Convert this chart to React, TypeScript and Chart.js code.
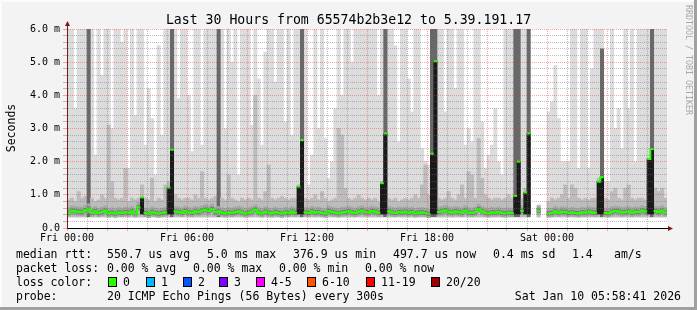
import { useEffect, useRef } from 'react';
import { Chart, registerables } from 'chart.js';

Chart.register(...registerables);

const FONT = "'DejaVu Sans Mono', monospace";

const chartTitle = 'Last 30 Hours from 65574b2b3e12 to 5.39.191.17';
const yAxisTitle = 'Seconds';
const watermark = 'RRDTOOL / TOBI OETIKER';

const xTickHours = [0, 6, 12, 18, 24];
const xTickLabels = ['Fri 00:00', 'Fri 06:00', 'Fri 12:00', 'Fri 18:00', 'Sat 00:00'];
const yTickLabels = ['0.0', '1.0 m', '2.0 m', '3.0 m', '4.0 m', '5.0 m', '6.0 m'];

// 10-minute slots over 30 hours, values in milliseconds (6.5 = beyond the top of the plot)
const maxRtt = [
  6.5, 6.5, 3.6, 6.5, 6.5, 6.5, 6.5, 6.5, 2.2, 6.5, 4.6, 6.5, 6.5, 3.0, 6.5, 6.5, 5.6, 6.5,
  1.8, 6.5, 3.4, 6.5, 6.5, 2.5, 4.2, 3.3, 1.6, 5.5, 2.8, 6.5, 6.5, 6.5, 6.5, 3.9, 6.5, 6.5,
  4.0, 2.3, 6.5, 6.5, 2.5, 6.5, 6.5, 6.5, 6.5, 6.5, 6.5, 3.0, 6.5, 5.0, 6.5, 1.6, 6.5, 6.5,
  6.5, 3.1, 6.5, 4.5, 2.5, 5.3, 6.5, 6.5, 4.4, 6.5, 6.5, 3.2, 6.5, 2.8, 6.5, 6.5, 6.5, 6.5,
  1.3, 2.2, 6.5, 3.0, 6.5, 2.7, 1.5, 2.0, 3.6, 6.5, 4.0, 6.5, 6.5, 5.0, 6.5, 6.5, 6.5, 6.5,
  6.5, 6.5, 6.5, 4.0, 6.5, 6.5, 6.5, 6.5, 5.5, 2.6, 6.5, 6.5, 4.5, 3.5, 6.5, 6.5, 2.4, 2.0,
  1.9, 6.5, 6.5, 6.5, 6.5, 3.5, 6.5, 6.5, 4.2, 6.5, 6.5, 2.5, 3.0, 2.6, 6.5, 6.5, 3.2, 1.8,
  2.2, 2.5, 3.6, 2.0, 1.6, 6.5, 6.5, 6.5, 6.5, 6.5, 6.5, 6.5, 6.5, null, null, 0.7, null, null,
  3.5, 3.8, 4.9, 3.3, 2.0, 2.0, 2.0, 6.5, 6.5, 1.8, 6.5, 6.5, 1.8, 4.8, 6.5, 6.5, 6.5, 1.4,
  1.4, 6.5, 3.0, 3.6, 2.4, 6.5, 3.6, 6.5, 2.0, 6.5, 6.5, 6.5, 6.5, 6.5, 6.5, 6.5, 6.5, 6.5,
];

const upperRtt = [
  0.85, 0.9, 0.8, 1.1, 0.9, 0.95, 6.5, 0.9, 0.8, 0.85, 1.0, 0.9, 3.1, 1.4, 0.9, 0.85, 0.9, 1.8,
  0.8, 0.9, 0.85, 0.9, 1.3, 0.9, 0.85, 1.5, 0.8, 0.9, 0.85, 1.3, 1.4, 6.5, 1.0, 0.9, 0.85, 0.9,
  0.9, 0.85, 1.0, 0.9, 1.7, 0.9, 0.85, 0.9, 0.95, 6.5, 0.9, 0.85, 1.6, 0.9, 0.85, 0.8, 0.9, 0.85,
  0.9, 0.85, 4.0, 0.9, 0.85, 1.1, 1.9, 0.9, 0.85, 0.9, 0.95, 0.9, 0.85, 0.9, 0.9, 1.3, 6.5, 0.9,
  0.85, 0.9, 1.0, 0.85, 1.1, 0.9, 0.8, 0.85, 0.9, 3.0, 2.8, 1.2, 0.9, 0.85, 0.9, 1.0, 0.9, 0.85,
  0.9, 0.85, 0.9, 0.8, 1.4, 6.5, 0.9, 0.85, 0.9, 0.8, 0.85, 0.9, 0.85, 0.9, 1.0, 0.9, 1.3, 1.9,
  1.0, 6.5, 6.5, 0.9, 0.85, 0.9, 1.1, 0.9, 0.85, 1.0, 1.3, 0.9, 1.7, 1.6, 0.9, 2.7, 1.5, 1.0,
  0.9, 0.85, 0.9, 0.9, 0.85, 0.9, 1.0, 0.9, 6.5, 6.5, 0.9, 1.2, 6.5, null, null, 0.6, null, null,
  0.8, 0.9, 0.85, 0.9, 1.0, 1.3, 0.9, 1.3, 1.2, 0.9, 0.85, 0.9, 0.85, 0.9, 0.9, 1.5, 5.4, 0.9,
  0.85, 1.1, 1.2, 0.9, 0.85, 1.2, 1.3, 0.9, 0.85, 0.9, 0.9, 0.85, 1.3, 6.5, 1.2, 1.1, 1.2, 0.9,
];

const medianRtt = [
  0.47, 0.52, 0.50, 0.49, 0.48, 0.53, 0.58, 0.46, 0.50, 0.45, 0.48, 0.52, 0.44, 0.46, 0.43, 0.47, 0.45, 0.48,
  0.46, 0.50, 0.44, 0.62, 0.92, 0.45, 0.42, 0.48, 0.45, 0.43, 0.45, 0.47, 1.22, 2.36, 0.50, 0.48, 0.46, 0.51,
  0.47, 0.45, 0.50, 0.48, 0.52, 0.55, 0.51, 0.57, 0.48, 0.50, 0.46, 0.44, 0.47, 0.45, 0.48, 0.50, 0.47, 0.44,
  0.46, 0.49, 0.55, 0.47, 0.44, 0.49, 0.46, 0.44, 0.48, 0.45, 0.43, 0.47, 0.45, 0.49, 0.46, 1.25, 2.65, 0.47,
  0.45, 0.50, 0.47, 0.48, 0.45, 0.43, 0.51, 0.48, 0.46, 0.44, 0.47, 0.48, 0.50, 0.47, 0.45, 0.49, 0.52, 0.48,
  0.47, 0.51, 0.49, 0.46, 1.35, 2.85, 0.50, 0.47, 0.45, 0.48, 0.47, 0.49, 0.46, 0.48, 0.44, 0.46, 0.47, 0.45,
  0.42, 2.24, 5.03, 0.48, 0.50, 0.53, 0.49, 0.47, 0.50, 0.48, 0.46, 0.52, 0.47, 0.45, 0.48, 0.57, 0.50, 0.46,
  0.44, 0.47, 0.46, 0.48, 0.45, 0.44, 0.46, 0.45, 0.97, 2.0, 0.52, 1.07, 2.85, null, null, 0.52, null, null,
  0.44, 0.45, 0.50, 0.46, 0.49, 0.48, 0.45, 0.47, 0.45, 0.44, 0.47, 0.46, 0.49, 0.47, 0.46, 1.40, 1.53, 0.45,
  0.44, 0.49, 0.51, 0.50, 0.47, 0.48, 0.50, 0.46, 0.49, 0.48, 0.52, 0.50, 2.08, 2.38, 0.51, 0.48, 0.52, 0.47,
];

const SMOKE_FLOOR = 0.32;

const rttLabel = 'median rtt:';
const rttStats = ['550.7 us avg', '5.0 ms max', '376.9 us min', '497.7 us now', '0.4 ms sd', '1.4', 'am/s'];
const lossLabel = 'packet loss:';
const lossStats = ['0.00 % avg', '0.00 % max', '0.00 % min', '0.00 % now'];
const lossColorLabel = 'loss color:';
const lossBuckets = ['0', '1', '2', '3', '4-5', '6-10', '11-19', '20/20'];
const lossColors = ['#26ff00', '#00b8ff', '#0059ff', '#7e00ff', '#ff00ff', '#ff5500', '#ff0000', '#a10000'];
const probeLabel = 'probe:';
const probeText = '20 ICMP Echo Pings (56 Bytes) every 300s';
const stampText = 'Sat Jan 10 05:58:41 2026';

const GREEN = '#26ff00';
const AXIS_RED = '#7a1a1a';
const MAJOR_GRID = 'rgba(255,40,40,0.42)';
const MINOR_GRID = 'rgba(110,110,110,0.45)';

const slotHours = medianRtt.map((_, i) => (i + 0.5) / 6);

const barDefaults = {
  type: 'bar' as const,
  borderWidth: 0,
  grouped: false,
  barPercentage: 1,
  categoryPercentage: 1,
  clip: 0,
};

const decorPlugin = {
  id: 'decor',
  beforeDraw(chart: any) {
    const { ctx, width, height, chartArea: a } = chart;
    ctx.save();
    ctx.fillStyle = '#f3f3f3';
    ctx.fillRect(0, 0, width, height);
    ctx.fillStyle = '#fcfcfc';
    ctx.fillRect(0, 0, width, 2);
    ctx.fillRect(0, 0, 2, height);
    ctx.fillStyle = '#a0a0a0';
    ctx.fillRect(0, height - 3, width, 3);
    ctx.fillRect(width - 3, 0, 3, height);
    ctx.fillStyle = '#ffffff';
    ctx.fillRect(a.left, a.top, a.right - a.left, a.bottom - a.top);
    ctx.restore();
  },
  afterDraw(chart: any) {
    const { ctx, width, chartArea: a } = chart;
    ctx.save();
    // axis arrows
    const ax = Math.round(a.left) + 0.5;
    const ay = Math.round(a.bottom) + 0.5;
    ctx.strokeStyle = AXIS_RED;
    ctx.fillStyle = AXIS_RED;
    ctx.lineWidth = 1;
    ctx.beginPath();
    ctx.moveTo(ax, a.top);
    ctx.lineTo(ax, a.top - 5);
    ctx.stroke();
    ctx.beginPath();
    ctx.moveTo(ax - 2.5, a.top - 3);
    ctx.lineTo(ax + 2.5, a.top - 3);
    ctx.lineTo(ax, a.top - 8);
    ctx.closePath();
    ctx.fill();
    ctx.strokeStyle = '#000';
    ctx.beginPath();
    ctx.moveTo(a.right, ay);
    ctx.lineTo(a.right + 3, ay);
    ctx.stroke();
    ctx.beginPath();
    ctx.moveTo(a.right + 1, ay - 2.5);
    ctx.lineTo(a.right + 1, ay + 2.5);
    ctx.lineTo(a.right + 6, ay);
    ctx.closePath();
    ctx.fill();

    ctx.fillStyle = '#000';
    // title
    ctx.font = `13.2px ${FONT}`;
    ctx.textAlign = 'center';
    ctx.textBaseline = 'alphabetic';
    ctx.fillText(chartTitle, width / 2, 24);

    // y axis title
    ctx.save();
    ctx.translate(15, 128);
    ctx.rotate(-Math.PI / 2);
    ctx.font = `11.5px ${FONT}`;
    ctx.textAlign = 'center';
    ctx.textBaseline = 'alphabetic';
    ctx.fillText(yAxisTitle, 0, 0);
    ctx.restore();

    // legend
    ctx.font = `11.5px ${FONT}`;
    ctx.textAlign = 'left';
    ctx.textBaseline = 'alphabetic';
    const rttX = [107, 207, 293, 393, 493, 572, 614];
    ctx.fillText(rttLabel, 16, 258);
    rttStats.forEach((s, i) => ctx.fillText(s, rttX[i], 258));
    const lossX = [107, 193, 279, 365];
    ctx.fillText(lossLabel, 16, 272);
    lossStats.forEach((s, i) => ctx.fillText(s, lossX[i], 272));
    ctx.fillText(lossColorLabel, 16, 286);
    const boxX = [108, 145.5, 182.5, 219, 256, 307, 365.5, 430.5];
    lossBuckets.forEach((s, i) => {
      const bx = Math.round(boxX[i]);
      ctx.fillStyle = lossColors[i];
      ctx.fillRect(bx, 278, 8, 9);
      ctx.strokeStyle = '#000';
      ctx.lineWidth = 1;
      ctx.strokeRect(bx + 0.5, 277.5, 8, 9);
      ctx.fillStyle = '#000';
      ctx.fillText(s, bx + 15, 286);
    });
    ctx.fillText(probeLabel, 16, 300);
    ctx.fillText(probeText, 107, 300);
    ctx.textAlign = 'right';
    ctx.fillText(stampText, 681, 300);

    // watermark
    ctx.save();
    ctx.translate(688, 5);
    ctx.rotate(Math.PI / 2);
    ctx.font = `8.3px ${FONT}`;
    ctx.fillStyle = '#a8a8a8';
    ctx.textAlign = 'left';
    ctx.textBaseline = 'middle';
    ctx.fillText(watermark, 0, 0);
    ctx.restore();

    ctx.restore();
  },
};

export default function App() {
  const ref = useRef<HTMLCanvasElement>(null);

  useEffect(() => {
    document.body.style.margin = '0';
    const canvas = ref.current;
    if (!canvas) return;

    const lightData = maxRtt.map((v, i) => ({ x: slotHours[i], y: v == null ? null : [SMOKE_FLOOR, v] }));
    const upperData = upperRtt.map((v, i) => ({ x: slotHours[i], y: v == null ? null : [SMOKE_FLOOR + 0.02, v] }));
    const band1 = medianRtt.map((m, i) => ({ x: slotHours[i], y: m == null || m > 0.85 ? null : [m - 0.11, m + 0.15] }));
    const band2 = medianRtt.map((m, i) => ({ x: slotHours[i], y: m == null || m > 0.85 ? null : [m - 0.05, m + 0.06] }));
    const core = medianRtt.map((m, i) => ({ x: slotHours[i], y: m == null || m <= 0.85 ? null : [0.42, m] }));
    const median = medianRtt.map((m, i) => ({ x: slotHours[i], y: m }));

    const chart = new Chart(canvas, {
      type: 'line',
      data: {
        datasets: [
          { ...barDefaults, label: 'max', data: lightData as any, backgroundColor: '#dcdcdc', order: 6 },
          {
            ...barDefaults,
            label: 'upper',
            data: upperData as any,
            backgroundColor: (c: any) => {
              const v = upperRtt[c.dataIndex];
              return v != null && v >= 5 ? '#686868' : '#bcbcbc';
            },
            order: 5,
          },
          { ...barDefaults, label: 'band1', data: band1 as any, backgroundColor: '#a6a6a6', order: 4 },
          { ...barDefaults, label: 'band2', data: band2 as any, backgroundColor: '#7c7c7c', order: 3 },
          { ...barDefaults, label: 'core', data: core as any, backgroundColor: '#1a1a1a', order: 2 },
          {
            type: 'line',
            label: 'median',
            data: median as any,
            borderColor: GREEN,
            borderWidth: 2,
            stepped: 'middle',
            spanGaps: false,
            pointStyle: 'line',
            pointRadius: 1.8,
            pointBorderWidth: 2,
            pointBorderColor: GREEN,
            pointBackgroundColor: GREEN,
            segment: {
              borderColor: (c: any) => (Math.abs(c.p1.parsed.y - c.p0.parsed.y) > 0.3 ? 'rgba(0,0,0,0)' : GREEN),
            },
            clip: 0,
            order: 1,
          } as any,
        ],
      },
      options: {
        animation: false,
        responsive: false,
        devicePixelRatio: 1,
        events: [],
        layout: { padding: { left: 0, right: 30, top: 29, bottom: 62 } },
        plugins: { legend: { display: false }, tooltip: { enabled: false }, title: { display: false } },
        scales: {
          x: {
            type: 'linear',
            min: 0,
            max: 30,
            offset: false,
            afterFit: (s: any) => { s.height = 20; },
            ticks: {
              stepSize: 1,
              autoSkip: false,
              maxRotation: 0,
              minRotation: 0,
              padding: 1,
              color: '#000',
              font: { family: FONT, size: 10 },
              callback: (v: any) => {
                const i = xTickHours.indexOf(Number(v));
                return i >= 0 ? xTickLabels[i] : '';
              },
            },
            grid: {
              z: 1,
              offset: false,
              tickLength: 3,
              color: (c: any) => {
                const v = c.tick ? c.tick.value : 0;
                if (v >= 30) return 'rgba(0,0,0,0)';
                return v % 3 === 0 ? MAJOR_GRID : MINOR_GRID;
              },
            },
            border: { display: true, color: '#000', z: 2, dash: [1, 1] },
          },
          y: {
            type: 'linear',
            min: 0,
            max: 6,
            afterFit: (s: any) => { s.width = 67; },
            ticks: {
              stepSize: 0.2,
              autoSkip: false,
              padding: 3,
              color: '#000',
              font: { family: FONT, size: 10 },
              callback: (v: any) => {
                const n = Number(v);
                const r = Math.round(n);
                return Math.abs(n - r) < 1e-6 ? yTickLabels[r] : '';
              },
            },
            grid: {
              z: 1,
              tickLength: 4,
              color: (c: any) => {
                const v = c.tick ? c.tick.value : 0;
                return Math.abs(v - Math.round(v)) < 1e-6 ? MAJOR_GRID : MINOR_GRID;
              },
            },
            border: { display: true, color: AXIS_RED, z: 2, dash: [1, 1] },
          },
        },
      } as any,
      plugins: [decorPlugin],
    });

    return () => chart.destroy();
  }, []);

  return (
    <div style={{ width: 697, height: 310 }}>
      <canvas ref={ref} width={697} height={310} style={{ display: 'block', width: 697, height: 310 }} />
    </div>
  );
}
